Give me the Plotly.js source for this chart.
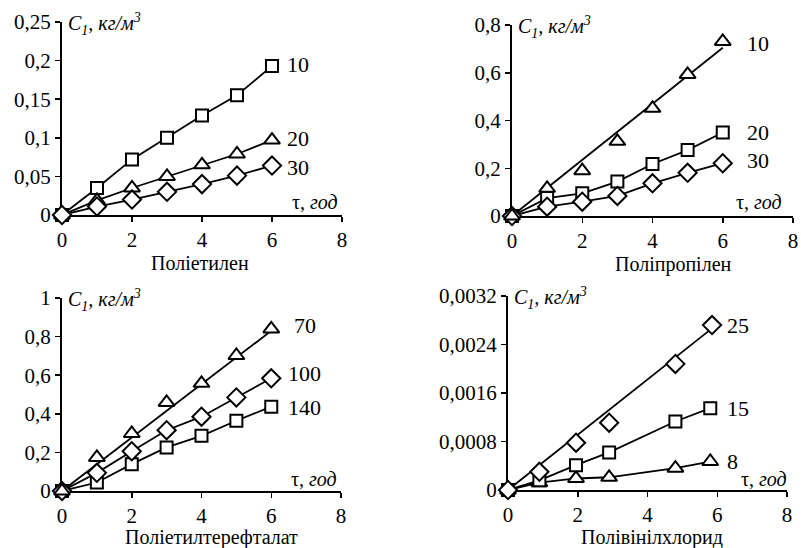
<!DOCTYPE html>
<html><head><meta charset="utf-8">
<script src="https://cdn.plot.ly/plotly-3.0.1.min.js"></script>
<style>body{margin:0;background:#fff}#chart{width:801px;height:548px}</style>
</head><body><div id="chart"></div>
<script>
// ---- data ----
const years = [0, 1, 2, 3, 4, 5, 6];
const pe10 = [0, 0.035, 0.072, 0.100, 0.129, 0.155, 0.193];
const pe20 = [0, 0.019, 0.035, 0.050, 0.065, 0.079, 0.097];
const pe30 = [0, 0.011, 0.020, 0.030, 0.040, 0.051, 0.064];

const pp10 = [0, 0.116, 0.190, 0.313, 0.451, 0.593, 0.731];
const pp20 = [0, 0.075, 0.095, 0.144, 0.218, 0.276, 0.350];
const pp30 = [0, 0.039, 0.060, 0.084, 0.137, 0.181, 0.221];
const pp10FitX = [0, 6];
const pp10Fit = [0, 0.705];

const pet70 = [0, 0.174, 0.298, 0.459, 0.558, 0.702, 0.840];
const pet100 = [0, 0.094, 0.206, 0.315, 0.385, 0.485, 0.584];
const pet140 = [0, 0.044, 0.139, 0.226, 0.286, 0.364, 0.437];
const pet70FitX = [0, 6];
const pet70Fit = [0, 0.830];

const pvcYears = [0, 0.9, 1.95, 2.9, 4.8, 5.8];
const pvcYears25 = [0, 0.9, 1.95, 2.9, 4.8, 5.85];
const pvc25 = [0, 0.00030, 0.00078, 0.00111, 0.00208, 0.00272];
const pvc15 = [0, 0.00016, 0.00041, 0.00062, 0.00113, 0.00135];
const pvc8 = [0, 0.00012, 0.00019, 0.00021, 0.00036, 0.00047];
const pvc25FitX = [0, 5.75];
const pvc25Fit = [0, 0.00262];

const xTicks = [0, 2, 4, 6, 8];
const peTicks = [0, 0.05, 0.1, 0.15, 0.2, 0.25];
const peTickText = ['0', '0,05', '0,1', '0,15', '0,2', '0,25'];
const ppTicks = [0, 0.2, 0.4, 0.6, 0.8];
const ppTickText = ['0', '0,2', '0,4', '0,6', '0,8'];
const petTicks = [0, 0.2, 0.4, 0.6, 0.8, 1];
const petTickText = ['0', '0,2', '0,4', '0,6', '0,8', '1'];
const pvcTicks = [0, 0.0008, 0.0016, 0.0024, 0.0032];
const pvcTickText = ['0', '0,0008', '0,0016', '0,0024', '0,0032'];

const panelNames = ['Поліетилен', 'Поліпропілен', 'Поліетилтерефталат', 'Полівінілхлорид'];
const yTitle = '<i>C</i><sub><i>1</i></sub><i>, кг/м</i><sup><i>3</i></sup>';
const xTitle = 'τ, <i>год</i>';

// ---- helpers ----
const W = 801, H = 548;
const px = v => v / W, py = v => 1 - v / H;
const FONT = 'Liberation Serif';
const black = '#000';

function mk(sym, size) {
  return {symbol: sym, size: size, color: '#fff', line: {color: black, width: 2}};
}
const SQ = mk('square', 12), TR = mk('triangle-up', 14), DI = mk('diamond', 14);

function series(x, y, ax, marker, withLine) {
  return {x: x, y: y, xaxis: 'x' + ax, yaxis: 'y' + ax, type: 'scatter',
    mode: withLine ? 'lines+markers' : 'markers', cliponaxis: false,
    line: {color: black, width: 1.8}, marker: marker, showlegend: false, hoverinfo: 'skip'};
}
function fit(x, y, ax) {
  return {x: x, y: y, xaxis: 'x' + ax, yaxis: 'y' + ax, type: 'scatter', mode: 'lines',
    cliponaxis: false, line: {color: black, width: 1.8}, showlegend: false, hoverinfo: 'skip'};
}
const traces = [
  series(years, pe10, '', SQ, true),
  series(years, pe20, '', TR, true),
  series(years, pe30, '', DI, true),
  fit(pp10FitX, pp10Fit, 2),
  series(years, pp20, 2, SQ, true),
  series(years, pp30, 2, DI, true),
  series(years, pp10, 2, TR, false),
  fit(pet70FitX, pet70Fit, 3),
  series(years, pet140, 3, SQ, true),
  series(years, pet100, 3, DI, true),
  series(years, pet70, 3, TR, false),
  fit(pvc25FitX, pvc25Fit, 4),
  series(pvcYears, pvc8, 4, TR, true),
  series(pvcYears, pvc15, 4, SQ, true),
  series(pvcYears25, pvc25, 4, DI, false)
];

function xa(dom, anchor) {
  return {domain: dom, anchor: anchor, range: [0, 8], tickvals: xTicks, ticktext: xTicks.map(String),
    showline: true, linecolor: black, linewidth: 2, ticks: 'outside', ticklen: 5, tickwidth: 1.5,
    tickcolor: black, showgrid: false, zeroline: false, layer: 'below traces',
    tickfont: {family: FONT, size: 21, color: black}, fixedrange: true};
}
function ya(dom, anchor, range, tv, tt) {
  return {domain: dom, anchor: anchor, range: range, tickvals: tv, ticktext: tt,
    showline: true, linecolor: black, linewidth: 2, ticks: 'outside', ticklen: 5, tickwidth: 1.5,
    tickcolor: black, showgrid: false, zeroline: false, layer: 'below traces', ticklabelstandoff: 0,
    tickfont: {family: FONT, size: 21, color: black}, fixedrange: true};
}

const ann = [];
function text(t, x, y, xa_, size) {
  ann.push({text: t, x: px(x), y: py(y), xref: 'paper', yref: 'paper', xanchor: xa_,
    yanchor: 'middle', showarrow: false, font: {family: FONT, size: size, color: black}});
}
// axis titles
text(yTitle, 66, 24, 'left', 20);
text(yTitle, 516, 27, 'left', 20);
text(yTitle, 66, 300, 'left', 20);
text(yTitle, 512, 298, 'left', 20);
text(xTitle, 340, 202, 'right', 20);
text(xTitle, 784, 202, 'right', 20);
text(xTitle, 339, 479, 'right', 20);
text(xTitle, 789, 479, 'right', 20);
// panel names
text(panelNames[0], 200, 263, 'center', 20);
text(panelNames[1], 673, 264, 'center', 20);
text(panelNames[2], 212, 537, 'center', 20);
text(panelNames[3], 652, 537, 'center', 20);
// curve labels
text('10', 285, 65, 'left', 22); text('20', 285, 139, 'left', 22); text('30', 285, 167, 'left', 22);
text('10', 745, 43, 'left', 22); text('20', 745, 132, 'left', 22); text('30', 745, 161, 'left', 22);
text('70', 292, 325, 'left', 22); text('100', 286, 373, 'left', 22); text('140', 286, 407, 'left', 22);
text('25', 725, 325, 'left', 22); text('15', 725, 408, 'left', 22); text('8', 725, 461, 'left', 22);

const layout = {
  width: W, height: H, margin: {l: 0, r: 0, t: 0, b: 0},
  paper_bgcolor: '#fff', plot_bgcolor: 'rgba(0,0,0,0)', showlegend: false,
  font: {family: FONT, color: black},
  xaxis: xa([px(62), px(342)], 'y'),
  yaxis: ya([py(215), py(22)], 'x', [0, 0.25], peTicks, peTickText),
  xaxis2: xa([px(512), px(793)], 'y2'),
  yaxis2: ya([py(216), py(25)], 'x2', [0, 0.8], ppTicks, ppTickText),
  xaxis3: xa([px(62), px(341)], 'y3'),
  yaxis3: ya([py(491), py(298)], 'x3', [0, 1], petTicks, petTickText),
  xaxis4: xa([px(508), px(787)], 'y4'),
  yaxis4: ya([py(490), py(296)], 'x4', [0, 0.0032], pvcTicks, pvcTickText),
  annotations: ann
};
Plotly.newPlot('chart', traces, layout, {displayModeBar: false, staticPlot: true});
</script></body></html>
